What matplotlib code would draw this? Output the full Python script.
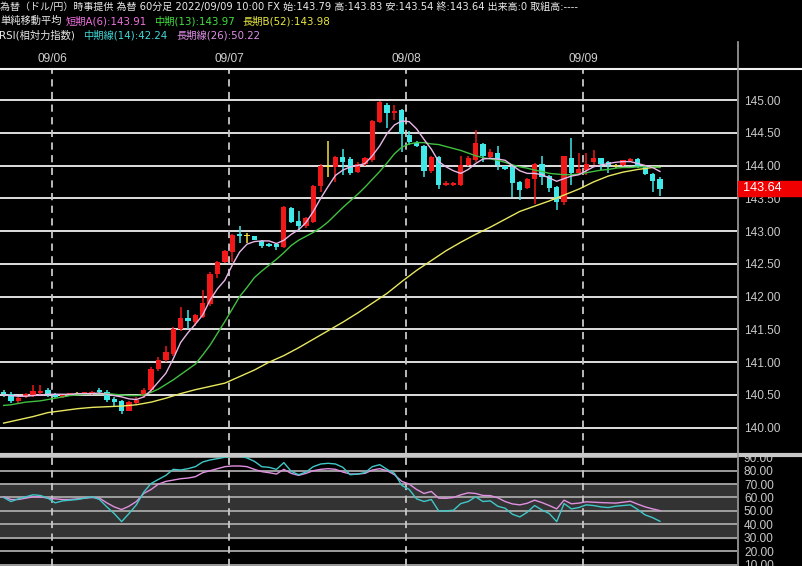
import numpy as np
import matplotlib
matplotlib.use("Agg")
import matplotlib.pyplot as plt
from matplotlib.lines import Line2D
from matplotlib.patches import Rectangle

#Hourly USD/JPY candles, 2022/09/05 17:00 - 2022/09/09 10:00
opens = [140.55, 140.52, 140.40, 140.47, 140.50, 140.53, 140.57, 140.52, 140.47, 140.51,
         140.52, 140.52, 140.51, 140.58, 140.55, 140.44, 140.41, 140.26, 140.37, 140.48,
         140.57, 140.89, 141.03, 141.13, 141.50, 141.67, 141.62, 141.69, 141.89, 142.35,
         142.53, 142.68, 142.95, 142.93, 142.92, 142.85, 142.81, 142.80, 142.76, 143.35,
         143.15, 143.07, 143.14, 143.69, 143.98, 143.98, 144.13, 144.10, 143.90, 144.02,
         144.08, 144.67, 144.93, 144.80, 144.85, 144.47, 144.35, 144.30, 143.91, 144.13,
         143.70, 143.70, 143.70, 144.01, 144.08, 144.33, 144.13, 144.19, 143.99, 143.98,
         143.75, 143.65, 143.79, 144.03, 143.84, 143.68, 143.45, 144.11, 143.89, 143.93,
         144.06, 144.11, 144.06, 144.00, 144.01, 144.07, 144.10, 143.98, 143.87, 143.79]
highs = [140.57, 140.55, 140.47, 140.53, 140.65, 140.65, 140.60, 140.53, 140.52, 140.53,
         140.54, 140.55, 140.56, 140.60, 140.57, 140.47, 140.43, 140.40, 140.47, 140.60,
         140.92, 141.08, 141.25, 141.53, 141.84, 141.80, 141.74, 142.10, 142.37, 142.55,
         142.71, 142.96, 143.08, 142.97, 142.93, 142.87, 142.82, 142.82, 143.38, 143.36,
         143.31, 143.22, 143.71, 144.02, 144.37, 144.15, 144.25, 144.13, 144.05, 144.13,
         144.70, 144.98, 144.95, 144.93, 144.86, 144.52, 144.37, 144.32, 144.15, 144.15,
         143.76, 143.75, 144.14, 144.14, 144.54, 144.34, 144.26, 144.30, 144.00, 143.99,
         143.76, 143.81, 144.04, 144.14, 143.85, 143.69, 144.15, 144.42, 144.19, 144.19,
         144.24, 144.12, 144.07, 144.02, 144.09, 144.11, 144.11, 143.99, 143.88, 143.83]
lows = [140.47, 140.37, 140.38, 140.46, 140.47, 140.50, 140.47, 140.46, 140.46, 140.50,
        140.50, 140.51, 140.50, 140.52, 140.39, 140.32, 140.21, 140.25, 140.36, 140.46,
        140.55, 140.87, 141.01, 141.10, 141.48, 141.50, 141.55, 141.67, 141.86, 142.28,
        142.51, 142.53, 142.82, 142.82, 142.86, 142.74, 142.76, 142.71, 142.74, 143.12,
        143.00, 143.05, 143.12, 143.60, 143.83, 143.75, 143.86, 143.85, 143.88, 144.00,
        144.06, 144.65, 144.57, 144.70, 144.21, 144.31, 144.28, 143.83, 143.89, 143.64,
        143.69, 143.69, 143.69, 144.00, 144.06, 144.06, 144.12, 143.93, 143.93, 143.52,
        143.47, 143.64, 143.42, 143.70, 143.60, 143.32, 143.40, 143.70, 143.86, 143.86,
        144.01, 143.93, 143.88, 143.96, 144.00, 144.06, 143.97, 143.85, 143.60, 143.54]
closes = [140.51, 140.41, 140.45, 140.51, 140.56, 140.56, 140.51, 140.47, 140.51, 140.52,
          140.52, 140.54, 140.55, 140.55, 140.43, 140.39, 140.26, 140.39, 140.43, 140.57,
          140.90, 141.03, 141.16, 141.51, 141.67, 141.63, 141.72, 141.91, 142.35, 142.53,
          142.69, 142.94, 142.93, 142.93, 142.87, 142.77, 142.77, 142.75, 143.36, 143.14,
          143.07, 143.20, 143.69, 144.00, 143.98, 144.13, 144.06, 143.88, 144.03, 144.11,
          144.68, 144.97, 144.80, 144.83, 144.48, 144.36, 144.30, 143.92, 144.13, 143.71,
          143.74, 143.74, 144.01, 144.11, 144.34, 144.14, 144.21, 144.01, 143.94, 143.73,
          143.63, 143.80, 144.03, 143.83, 143.65, 143.45, 144.14, 143.88, 143.94, 144.03,
          144.11, 144.03, 144.01, 144.00, 144.08, 144.10, 143.99, 143.87, 143.77, 143.64]

#Moving averages as drawn on the chart
ma_short = [140.50, 140.49, 140.48, 140.48, 140.49, 140.50, 140.51, 140.51, 140.51, 140.51,
            140.52, 140.52, 140.52, 140.53, 140.51, 140.49, 140.47, 140.44, 140.43, 140.47,
            140.57, 140.70, 140.83, 141.05, 141.30, 141.45, 141.58, 141.72, 141.95, 142.12,
            142.25, 142.48, 142.68, 142.80, 142.84, 142.85, 142.85, 142.81, 142.86, 142.95,
            143.02, 143.13, 143.30, 143.50, 143.68, 143.85, 143.93, 143.98, 144.00, 144.03,
            144.15, 144.30, 144.49, 144.62, 144.68, 144.67, 144.56, 144.40, 144.25, 144.06,
            143.98, 143.92, 143.88, 143.94, 144.03, 144.10, 144.11, 144.10, 144.08, 144.00,
            143.92, 143.88, 143.88, 143.86, 143.81, 143.76, 143.80, 143.84, 143.86, 143.92,
            143.98, 144.01, 144.03, 144.05, 144.06, 144.06, 144.03, 144.00, 143.97, 143.91]
ma_mid = [140.34, 140.35, 140.37, 140.39, 140.40, 140.41, 140.43, 140.45, 140.47, 140.49,
          140.50, 140.51, 140.52, 140.52, 140.52, 140.51, 140.50, 140.49, 140.49, 140.50,
          140.54, 140.59, 140.66, 140.73, 140.81, 140.89, 140.97, 141.11, 141.26, 141.44,
          141.62, 141.81, 142.00, 142.14, 142.29, 142.39, 142.48, 142.57, 142.67, 142.78,
          142.86, 142.92, 142.98, 143.05, 143.14, 143.25, 143.36, 143.46, 143.56, 143.67,
          143.79, 143.91, 144.04, 144.18, 144.28, 144.33, 144.35, 144.35, 144.33, 144.32,
          144.29, 144.26, 144.23, 144.19, 144.15, 144.12, 144.10, 144.08, 144.05, 144.01,
          143.98, 143.96, 143.93, 143.91, 143.88, 143.87, 143.86, 143.86, 143.87, 143.89,
          143.91, 143.93, 143.94, 143.96, 143.97, 143.97, 143.98, 143.98, 143.98, 143.97]
ma_long_idx = list(range(0, 90, 2)) + [89]
ma_long = [140.07, 140.12, 140.17, 140.23, 140.26, 140.29, 140.31, 140.32, 140.33, 140.35,
           140.39, 140.45, 140.52, 140.58, 140.63, 140.68, 140.78, 140.88, 141.00, 141.10,
           141.22, 141.35, 141.48, 141.61, 141.75, 141.90, 142.05, 142.23, 142.40, 142.55,
           142.70, 142.83, 142.95, 143.06, 143.18, 143.30, 143.38, 143.46, 143.55, 143.64,
           143.75, 143.84, 143.90, 143.94, 143.97, 143.98]

#RSI lines
rsi_14 = [60, 57, 59, 60.5, 62, 61.5, 59.5, 56, 57.5, 58,
          58.5, 59.5, 60.5, 58.5, 53, 48, 42, 48, 54.5, 64,
          70.5, 73.5, 76.5, 81, 80.5, 81.5, 83, 86.5, 88, 89,
          90, 91, 91, 89.5, 87, 83, 82.5, 81, 86, 79.5,
          77, 79, 83, 85, 85.5, 85, 82.5, 77, 77.5, 78.5,
          83, 84.5, 81, 78, 69, 66, 59, 57, 58.5, 50,
          50, 50.5, 55.5, 57, 60.5, 57, 57.5, 53.5, 52, 47.5,
          45.5, 49, 54, 50.7, 48, 42, 55.5, 51.5, 52.5, 54.5,
          54, 53, 52.5, 53.5, 54, 54.5, 51, 47, 45, 42.24]
rsi_26 = [60.5, 58.5, 58.5, 59.5, 60.5, 60.5, 59.5, 59, 58.5, 58.5,
          59, 59.5, 60, 59.5, 56, 53, 51, 53.5, 57, 63,
          66, 70, 72, 73, 74, 74.5, 75.5, 78.5, 80, 81.5,
          83, 83.5, 83.5, 83, 81, 79.3, 78.5, 77.5, 81, 78,
          76.5, 78, 80, 81, 81.5, 81, 79, 77.5, 77.5, 78,
          80.5, 81.5, 80, 77, 72, 70, 66, 63, 64.5, 59.5,
          59.4, 60, 62, 63.5, 63, 61.5, 61.4, 59.8, 57, 55.2,
          54.5, 55.7, 58, 56.2, 54, 51.5, 58, 55.3, 55.8, 56.8,
          56.5, 56.2, 56, 55.8, 56.5, 57.2, 55, 53, 51.5, 50.22]

day_labels = ["09/06", "09/07", "09/08", "09/09"]
day_pos = [6.6, 30.6, 54.6, 78.6]
price_ticks = [140.0, 140.5, 141.0, 141.5, 142.0, 142.5, 143.0, 143.5, 144.0, 144.5, 145.0]
rsi_ticks = [10, 20, 30, 40, 50, 60, 70, 80, 90]
last_price = 143.64

header1 = "為替（ドル/円）時事提供 為替 60分足 2022/09/09 10:00 FX 始:143.79 高:143.83 安:143.54 終:143.64 出来高:0 取組高:----"
header2 = [("単純移動平均", "#e8e8e8", 0), ("短期A(6):143.91", "#f070e0", 66),
           ("中期(13):143.97", "#40e040", 154), ("長期B(52):143.98", "#e8e840", 242)]
header3 = [("RSI(相対力指数)", "#e8e8e8", -1), ("中期線(14):42.24", "#40d8d8", 83),
           ("長期線(26):50.22", "#e090e8", 176)]

#Colours
upCol = "#f01818"
downCol = "#40e8e8"
dojiCol = "#f0e040"
W, H = 802, 566
jp = ['DejaVu Sans', 'Noto Sans CJK JP']
num = 'Liberation Sans'

fig = plt.figure(figsize=(W/100, H/100), dpi=100, facecolor="black")
ax = fig.add_axes([0, 1-453/H, 737/W, (453-69)/H], facecolor="black")
rax = fig.add_axes([0, 0, 737/W, 111/H], facecolor="black")

n = len(closes)
idx = np.arange(n)
o = np.array(opens)
c = np.array(closes)

#Price panel
ax.set_xlim(-0.49, 99.45)
ax.set_ylim(139.614, 145.473)
for p in price_ticks:
    ax.axhline(p, color="#f0f0f0", lw=1.3, zorder=1)
for d in day_pos:
    ax.axvline(d, color="#c8c8c8", lw=1.3, ls=(0, (4, 3)), zorder=1)

cols = [upCol if c[i] > o[i] else (downCol if c[i] < o[i] else dojiCol) for i in range(n)]
ax.vlines(idx, lows, highs, colors=cols, lw=1.1, zorder=3)
bodyH = np.maximum(np.abs(c - o), 0.014)
ax.bar(idx, bodyH, bottom=np.minimum(o, c), width=0.72, color=cols, zorder=4)

ax.plot(ma_long_idx, ma_long, color="#e8e860", lw=1.0, zorder=5)
ax.plot(idx, ma_mid, color="#40c040", lw=1.0, zorder=5)
ax.plot(idx, ma_short, color="#e8b8e8", lw=1.0, zorder=6)

ax.yaxis.tick_right()
ax.set_yticks(price_ticks)
ax.set_yticklabels(["%.2f" % p for p in price_ticks], fontfamily=num, fontsize=8.6, color="#c8c8c8")
ax.tick_params(axis="y", length=0, pad=5)
ax.xaxis.tick_top()
ax.set_xticks(day_pos)
ax.set_xticklabels(day_labels, fontfamily=num, fontsize=8.6, color="#d0d0d0")
ax.tick_params(axis="x", length=0, pad=3)
for s in ax.spines.values():
    s.set_visible(False)

#RSI panel
rax.set_xlim(-0.49, 99.45)
rax.set_ylim(8.9, 91.7)
rax.axhspan(30, 70, color="#333333", zorder=0)
for r in rsi_ticks:
    rax.axhline(r, color="#a8a8a8", lw=1.3, zorder=1)
for d in day_pos:
    rax.axvline(d, color="#c8c8c8", lw=1.3, ls=(0, (4, 3)), zorder=2)
rax.plot(idx, rsi_26, color="#e090e0", lw=1.0, zorder=3)
rax.plot(idx, rsi_14, color="#40c8c8", lw=1.0, zorder=4)
rax.yaxis.tick_right()
rax.set_yticks(rsi_ticks)
rax.set_yticklabels(["%.2f" % r for r in rsi_ticks], fontfamily=num, fontsize=8.6, color="#c8c8c8")
rax.tick_params(axis="y", length=0, pad=5)
rax.set_xticks([])
for s in rax.spines.values():
    s.set_visible(False)

#Frame lines
fig.add_artist(Line2D([0, 1], [1-69/H, 1-69/H], color="#f0f0f0", lw=1.5))
fig.add_artist(Line2D([0, 1], [1-455/H, 1-455/H], color="#c8c8c8", lw=3))
fig.add_artist(Line2D([737.5/W, 737.5/W], [0, 1-42/H], color="#a0a0a0", lw=1.2))

#Last price tag
fig.add_artist(Rectangle((738/W, 1-196/H), 64/W, 15/H, color="#f00000", zorder=10))
fig.text(743/W, 1-188.5/H, "%.2f" % last_price, fontfamily=num, fontsize=9.2,
         color="white", va="center", ha="left", zorder=11)

#Header
fig.text(0, 1-7/H, header1, fontfamily=jp, fontsize=7.2, color="#e8e8e8", va="center")
for txt, col, x in header2:
    fig.text(x/W, 1-21/H, txt, fontfamily=jp, fontsize=7.4, color=col, va="center")
for txt, col, x in header3:
    fig.text(x/W, 1-35/H, txt, fontfamily=jp, fontsize=7.4, color=col, va="center")

fig.savefig("out.png", dpi=100, facecolor="black")
